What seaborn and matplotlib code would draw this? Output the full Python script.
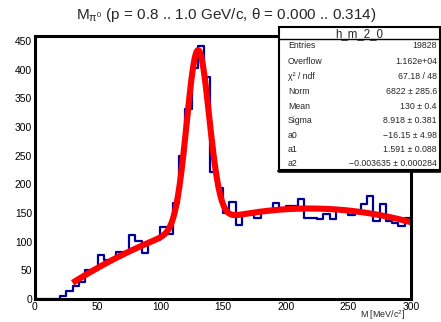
import numpy as np
import pandas as pd
import matplotlib
matplotlib.use("Agg")
import matplotlib.pyplot as plt
from matplotlib.patches import Rectangle
import seaborn as sns

# Histogram h_m_2_0: counts in 5 MeV bins from 0 to 300 MeV/c^2
bin_width = 5.0
bin_low = np.arange(0.0, 300.0, bin_width)
counts = [
    0, 0, 0, 0, 6, 14, 22, 30, 51, 50,
    76, 68, 68, 82, 82, 111, 101, 80, 101, 103,
    126, 113, 168, 250, 332, 403, 441, 388, 222, 193,
    150, 170, 130, 148, 148, 142, 151, 151, 168, 159,
    162, 162, 174, 142, 142, 139, 148, 139, 157, 157,
    146, 150, 166, 180, 136, 166, 136, 133, 127, 142,
]

# Fit: Gaussian + 2nd order polynomial background
fit_norm = 6822.0
fit_mean = 130.0
fit_sigma = 8.918
fit_a0 = -16.15
fit_a1 = 1.591
fit_a2 = -0.003635
fit_range = (30.0, 300.0)

hist_name = "h_m_2_0"
stat_labels = ["Entries", "Overflow", "\u03c7\u00b2 / ndf", "Norm", "Mean",
               "Sigma", "a0", "a1", "a2"]
stat_values = ["19828", "1.162e+04", "67.18 / 48", "6822 \u00b1 285.6",
               "130 \u00b1 0.4", "8.918 \u00b1 0.381", "\u221216.15 \u00b1 4.98",
               "1.591 \u00b1 0.088", "\u22120.003635 \u00b1 0.000284"]

sns.set_style("white")
plt.rcParams["font.family"] = ["Liberation Sans", "DejaVu Sans"]
plt.rcParams["mathtext.fontset"] = "custom"
plt.rcParams["mathtext.rm"] = "Liberation Sans"
plt.rcParams["mathtext.it"] = "Liberation Sans"
plt.rcParams["mathtext.sf"] = "Liberation Sans"

W, H = 441, 322
fig = plt.figure(figsize=(W / 100, H / 100), dpi=100)
fig.patch.set_facecolor("white")

x0, x1, y0, y1 = 35, 411, 299, 36
ax = fig.add_axes([x0 / W, 1 - y0 / H, (x1 - x0) / W, (y0 - y1) / H])

hist_df = pd.DataFrame({"m": bin_low + bin_width / 2, "n": counts})
sns.histplot(data=hist_df, x="m", weights="n", bins=60, binrange=(0, 300),
             element="step", fill=False, color="#000099", linewidth=1.6, ax=ax)

xf = np.linspace(fit_range[0], fit_range[1], 400)
yf = (fit_norm / (np.sqrt(2 * np.pi) * fit_sigma)
      * np.exp(-0.5 * ((xf - fit_mean) / fit_sigma) ** 2)
      + fit_a0 + fit_a1 * xf + fit_a2 * xf ** 2)
sns.lineplot(x=xf, y=yf, color="red", linewidth=4.4, ax=ax, solid_capstyle="butt")

ax.set_xlim(0, 300)
ax.set_ylim(0, 459)
ax.set_xlabel("")
ax.set_ylabel("")
ax.set_xticks(np.arange(0, 301, 50))
ax.set_xticks(np.arange(0, 301, 10), minor=True)
ax.set_yticks(np.arange(0, 451, 50))
ax.set_yticks(np.arange(0, 451, 10), minor=True)
ax.tick_params(axis="both", which="both", direction="in", colors="black",
               labelsize=7.4, top=False, right=False)
ax.tick_params(axis="y", which="major", length=7.5, width=1.4, pad=2)
ax.tick_params(axis="y", which="minor", length=3.8, width=1.2)
ax.tick_params(axis="x", which="major", length=5.5, width=1.4, pad=2)
ax.tick_params(axis="x", which="minor", length=2.8, width=1.2)
for s in ax.spines.values():
    s.set_visible(True)
    s.set_color("black")
    s.set_linewidth(2.2)

# Overlay in pixel coordinates for the title, axis label and stats box
ov = fig.add_axes([0, 0, 1, 1], facecolor="none")
ov.set_xlim(0, W)
ov.set_ylim(H, 0)
ov.axis("off")

ov.text(226, 15, r"M$_{\pi^{0}}$ (p = 0.8 .. 1.0 GeV/c, $\mathrm{\theta}$ = 0.000 .. 0.314)",
        ha="center", va="center", fontsize=11)
ov.text(405, 321.5, "M [MeV/c$^{2}$]", ha="right", va="bottom", fontsize=6.4)

bx0, bx1, by0, by1 = 279, 440, 27, 170
ov.add_patch(Rectangle((bx0, by0), bx1 - bx0, by1 - by0, facecolor="white",
                       edgecolor="black", linewidth=1.5, zorder=3))
ov.plot([bx0, bx1], [by1 + 0.5, by1 + 0.5], color="black", linewidth=2.6, zorder=4)
ov.plot([bx0, bx1], [38.5, 38.5], color="black", linewidth=1.0, zorder=4)
ov.text((bx0 + bx1) / 2, 36.8, hist_name, ha="center", va="baseline", fontsize=8.3, zorder=5)
row_y = [45.5, 61, 76, 91, 106, 120, 135, 149, 163]
for lab, val, ry in zip(stat_labels, stat_values, row_y):
    ov.text(288, ry, lab, ha="left", va="center", fontsize=6.3, zorder=5)
    ov.text(437, ry, val, ha="right", va="center", fontsize=6.3, zorder=5)

fig.savefig("out.png", dpi=100, facecolor="white")
